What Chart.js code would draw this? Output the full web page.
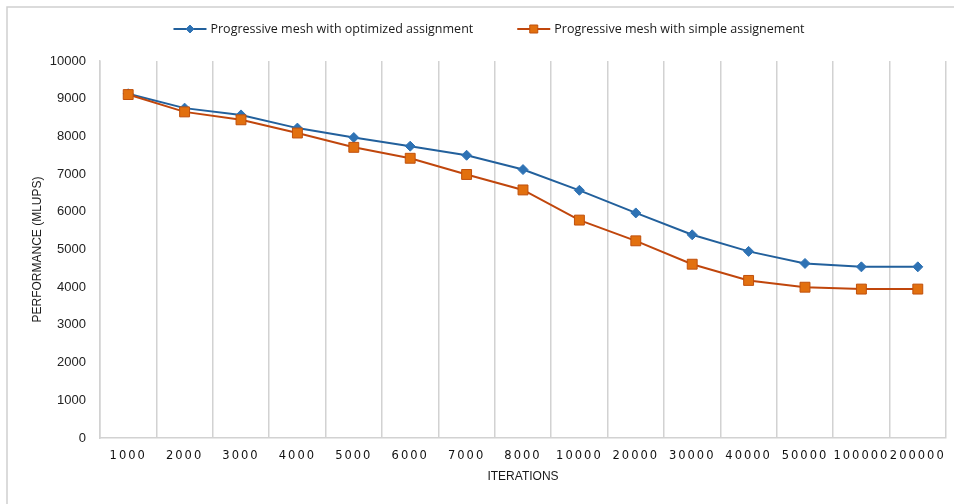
<!DOCTYPE html>
<html>
<head>
<meta charset="utf-8">
<script src="https://cdn.jsdelivr.net/npm/chart.js@4/dist/chart.umd.min.js"></script>
<style>
  html, body { margin: 0; padding: 0; background: #ffffff; }
  #wrap { position: relative; width: 954px; height: 504px; }
</style>
</head>
<body>
<div id="wrap"><canvas id="chart" width="954" height="504"></canvas></div>
<script>
// Iteration counts along the horizontal axis
const iterations = ['1000', '2000', '3000', '4000', '5000', '6000', '7000', '8000',
                    '10000', '20000', '30000', '40000', '50000', '100000', '200000'];

// Performance in MLUPS for each assignment strategy
const optimizedPerf = [9130, 8750, 8570, 8220, 7970, 7740, 7500, 7120,
                       6570, 5970, 5390, 4950, 4630, 4540, 4540];
const simplePerf    = [9110, 8650, 8440, 8090, 7710, 7420, 6990, 6580,
                       5780, 5230, 4610, 4180, 4000, 3950, 3950];

const seriesNames = ['Progressive mesh with optimized assignment',
                     'Progressive mesh with simple assignement'];

const yTicks = { min: 0, max: 10000, step: 1000 };

const BLUE_LINE = '#22609c';
const BLUE_MARK = '#2e72b4';
const ORANGE_LINE = '#c0460c';
const ORANGE_MARK = '#e2700f';
const ORANGE_EDGE = '#c0500c';
const GRID = '#d2d2d2';

// Frame lines along the top and left edges of the figure
const framePlugin = {
  id: 'frame',
  beforeDraw(chart) {
    const c = chart.ctx;
    c.save();
    c.strokeStyle = '#d0d0d0';
    c.lineWidth = 1.5;
    c.beginPath();
    c.moveTo(7, chart.height);
    c.lineTo(7, 7);
    c.lineTo(chart.width, 7);
    c.stroke();
    c.restore();
  }
};

// Wider letter spacing for the category labels
const spacedLabelsPlugin = {
  id: 'spacedLabels',
  afterUpdate(chart) {
    const xs = chart.scales.x;
    if (xs && !xs._spaced) {
      const base = xs.drawLabels;
      xs.drawLabels = function (area) {
        const c = this.ctx;
        c.save();
        c.letterSpacing = '2px';
        base.call(this, area);
        c.restore();
      };
      xs._spaced = true;
    }
  }
};

// Legend: line sample with its marker, followed by the series name
const lineLegendPlugin = {
  id: 'lineLegend',
  afterDraw(chart) {
    const c = chart.ctx;
    const sets = chart.data.datasets;
    const font = '12.5px "Open Sans", sans-serif';
    const sampleW = 33, textGap = 4, itemGap = 44, y = 29;
    c.save();
    c.font = font;
    const widths = sets.map(ds => sampleW + textGap + c.measureText(ds.label).width);
    const total = widths.reduce((a, b) => a + b, 0) + itemGap * (sets.length - 1);
    let x = 489 - total / 2;
    sets.forEach((ds, i) => {
      c.strokeStyle = ds.borderColor;
      c.lineWidth = 2;
      c.beginPath();
      c.moveTo(x, y);
      c.lineTo(x + sampleW, y);
      c.stroke();
      const cx = x + sampleW / 2;
      c.fillStyle = ds.pointBackgroundColor;
      c.strokeStyle = ds.pointBorderColor;
      c.lineWidth = 1;
      c.beginPath();
      if (ds.pointStyle === 'rectRot') {
        c.moveTo(cx, y - 4); c.lineTo(cx + 4, y); c.lineTo(cx, y + 4); c.lineTo(cx - 4, y);
        c.closePath();
      } else {
        c.rect(cx - 4, y - 4, 8, 8);
      }
      c.fill();
      c.stroke();
      c.fillStyle = '#1a1a1a';
      c.textBaseline = 'middle';
      c.textAlign = 'left';
      c.fillText(ds.label, x + sampleW + textGap, y);
      x += widths[i] + itemGap;
    });
    c.restore();
  }
};

new Chart(document.getElementById('chart'), {
  type: 'line',
  data: {
    labels: iterations,
    datasets: [
      {
        label: seriesNames[0],
        data: optimizedPerf,
        borderColor: BLUE_LINE,
        borderWidth: 2,
        pointStyle: 'rectRot',
        pointRadius: 5,
        pointBackgroundColor: BLUE_MARK,
        pointBorderColor: BLUE_MARK,
        pointBorderWidth: 1,
        tension: 0,
        order: 1
      },
      {
        label: seriesNames[1],
        data: simplePerf,
        borderColor: ORANGE_LINE,
        borderWidth: 2,
        pointStyle: 'rect',
        pointRadius: 7,
        pointBackgroundColor: ORANGE_MARK,
        pointBorderColor: ORANGE_EDGE,
        pointBorderWidth: 1,
        tension: 0,
        order: 0
      }
    ]
  },
  options: {
    responsive: false,
    animation: false,
    devicePixelRatio: 1,
    layout: { padding: { top: 61, right: 5, bottom: 0, left: 0 } },
    plugins: {
      legend: { display: false },
      tooltip: { enabled: false },
      title: { display: false }
    },
    scales: {
      x: {
        offset: true,
        grid: { display: true, offset: true, color: GRID, lineWidth: 1.5, drawTicks: false },
        border: { display: true, color: GRID, width: 1.5 },
        ticks: {
          padding: 11,
          maxRotation: 0,
          autoSkip: false,
          color: '#111111',
          font: { family: '"DejaVu Sans", sans-serif', size: 11.5 }
        },
        title: {
          display: true,
          text: 'ITERATIONS',
          color: '#1a1a1a',
          font: { family: '"Liberation Sans", Arial, sans-serif', size: 12 },
          padding: { top: 0, bottom: 20 }
        },
        afterFit(scale) { scale.height = 66; }
      },
      y: {
        min: yTicks.min,
        max: yTicks.max,
        grid: { display: false, drawTicks: false },
        border: { display: true, color: GRID, width: 1.5 },
        ticks: {
          stepSize: yTicks.step,
          padding: 14,
          color: '#222222',
          font: { family: '"Liberation Sans", Arial, sans-serif', size: 13 },
          callback: (v) => String(v)
        },
        title: {
          display: true,
          text: 'PERFORMANCE (MLUPS)',
          color: '#1a1a1a',
          font: { family: '"Liberation Sans", Arial, sans-serif', size: 12 },
          padding: { top: 30, bottom: 0 }
        },
        afterFit(scale) { scale.width = 100; }
      }
    }
  },
  plugins: [framePlugin, spacedLabelsPlugin, lineLegendPlugin]
});
</script>
</body>
</html>
